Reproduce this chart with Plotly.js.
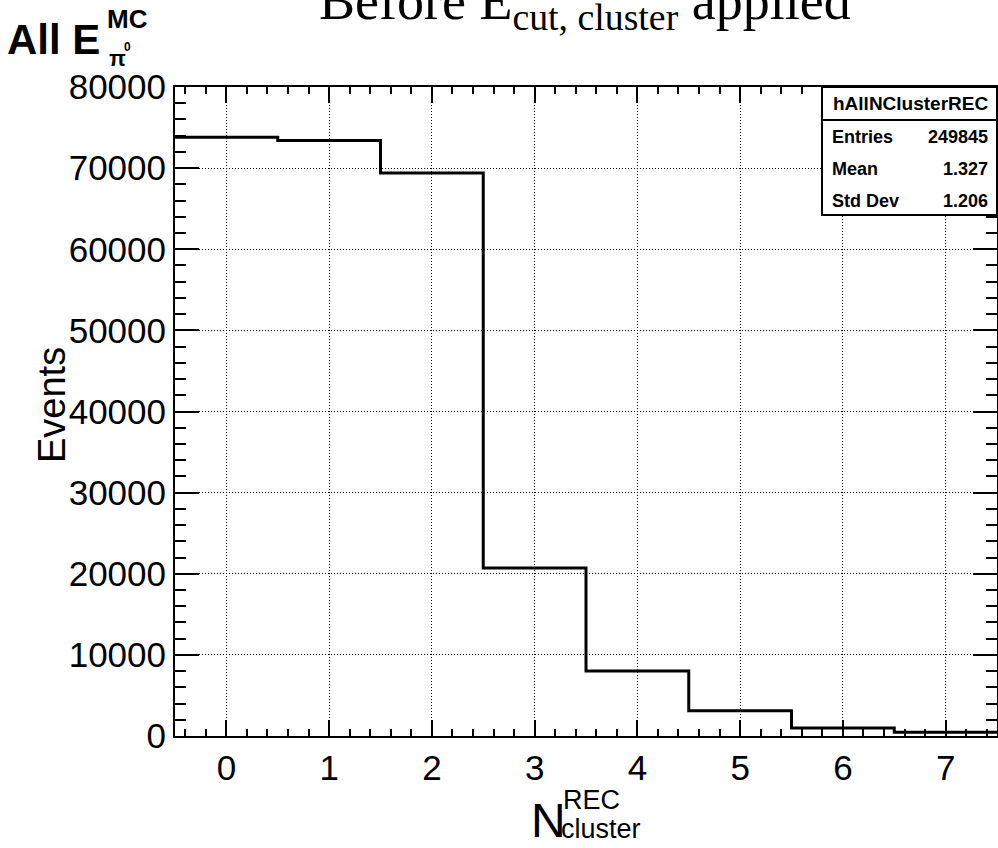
<!DOCTYPE html>
<html>
<head>
<meta charset="utf-8">
<script src="https://cdn.plot.ly/plotly-3.0.1.min.js"></script>
<style>
  html, body { margin: 0; padding: 0; background: #fff; }
  #chart { width: 998px; height: 848px; }
</style>
</head>
<body>
<div id="chart"></div>
<script>
// Reconstructed cluster multiplicity histogram (bins centred on integers)
const binCenters = [0, 1, 2, 3, 4, 5, 6, 7];
const binCounts  = [73800, 73400, 69400, 20700, 8000, 3100, 1000, 450];
const yTicks     = [0, 10000, 20000, 30000, 40000, 50000, 60000, 70000, 80000];
const statNames  = ['Entries', 'Mean', 'Std Dev'];
const statValues = ['249845', '1.327', '1.206'];
const histName   = 'hAllNClusterREC';

// Step outline: each bin spans centre ± half width
const binWidth = 1;
const stepX = binCenters.map(c => c - binWidth / 2);
stepX.push(binCenters[binCenters.length - 1] + binWidth / 2);
const stepY = binCounts.slice();
stepY.push(binCounts[binCounts.length - 1]);

const W = 998, H = 848;
const M = { l: 175, r: 1, t: 87, b: 112 };
const PW = W - M.l - M.r, PH = H - M.t - M.b;
const px = x => (x - M.l) / PW;
const py = y => (H - M.b - y) / PH;

const SANS = 'Liberation Sans, Arial, sans-serif';
const SERIF = 'Liberation Serif, Times New Roman, serif';

const trace = {
  x: stepX,
  y: stepY,
  type: 'scatter',
  mode: 'lines',
  line: { shape: 'hv', color: '#000', width: 3 },
  hoverinfo: 'skip',
  showlegend: false
};

const annotations = [];
function label(text, x, y, opts) {
  annotations.push(Object.assign({
    text: text, xref: 'paper', yref: 'paper', x: px(x), y: py(y),
    showarrow: false, xanchor: 'left', yanchor: 'middle',
    font: { family: SANS, size: 18, color: '#000' }
  }, opts || {}));
}

// Statistics box text
label('<b>' + histName + '</b>', 910, 104, { xanchor: 'center', font: { family: SANS, size: 19, color: '#000' } });
const rowY = [137, 169, 201];
statNames.forEach((n, i) => {
  label('<b>' + n + '</b>', 830, rowY[i]);
  label('<b>' + statValues[i] + '</b>', 990, rowY[i], { xanchor: 'right' });
});

// Top-left label: All E^{MC}_{pi0}
label('<b>All E</b>', 5, 39, { font: { family: SANS, size: 42, color: '#000' } });
label('<b>MC</b>', 105, 19, { font: { family: SANS, size: 26, color: '#000' } });
label('<b>π</b>', 107, 58, { font: { family: SANS, size: 22, color: '#000' } });
label('<b>0</b>', 122, 47, { font: { family: SANS, size: 12, color: '#000' } });

// Page title (runs off the top edge)
label('Before E<sub>cut, cluster</sub> applied', 585, 5, {
  xanchor: 'center', font: { family: SERIF, size: 54, color: '#000' }
});

// Axis titles
label('Events', 52, 405, {
  xanchor: 'center', textangle: -90, font: { family: SANS, size: 38, color: '#000' }
});
label('N', 548, 820, { xanchor: 'center', font: { family: SANS, size: 48, color: '#000' } });
label('REC', 561, 800, { font: { family: SANS, size: 27, color: '#000' } });
label('cluster', 559, 829, { font: { family: SANS, size: 27, color: '#000' } });

// Statistics box frame and header separator
const shapes = [
  { type: 'rect', xref: 'paper', yref: 'paper', x0: px(822), x1: 1, y0: py(215), y1: 1,
    fillcolor: '#fff', line: { color: '#000', width: 2 }, layer: 'above' },
  { type: 'line', xref: 'paper', yref: 'paper', x0: px(822), x1: 1, y0: py(120), y1: py(120),
    line: { color: '#000', width: 2 }, layer: 'above' }
];

const axisCommon = {
  showline: true, linecolor: '#000', linewidth: 2, mirror: 'allticks',
  ticks: 'inside', tickcolor: '#000', tickwidth: 2,
  showgrid: true, gridcolor: '#000', gridwidth: 1, griddash: '1px,2px',
  zeroline: false, tickfont: { family: SANS, size: 35, color: '#000' },
  fixedrange: true
};

const layout = {
  width: W, height: H,
  margin: M,
  paper_bgcolor: '#fff', plot_bgcolor: '#fff',
  showlegend: false,
  xaxis: Object.assign({}, axisCommon, {
    range: [-0.5, 7.5], tickvals: binCenters, ticklen: 16,
    minor: { dtick: 0.2, tick0: 0, ticks: 'inside', ticklen: 7, tickwidth: 2, tickcolor: '#000', showgrid: false }
  }),
  yaxis: Object.assign({}, axisCommon, {
    range: [0, 80000], tickvals: yTicks, tickformat: 'd', ticklen: 24,
    minor: { dtick: 2000, tick0: 0, ticks: 'inside', ticklen: 11, tickwidth: 2, tickcolor: '#000', showgrid: false }
  }),
  annotations: annotations,
  shapes: shapes
};

Plotly.newPlot('chart', [trace], layout, { displayModeBar: false, staticPlot: true });
</script>
</body>
</html>
